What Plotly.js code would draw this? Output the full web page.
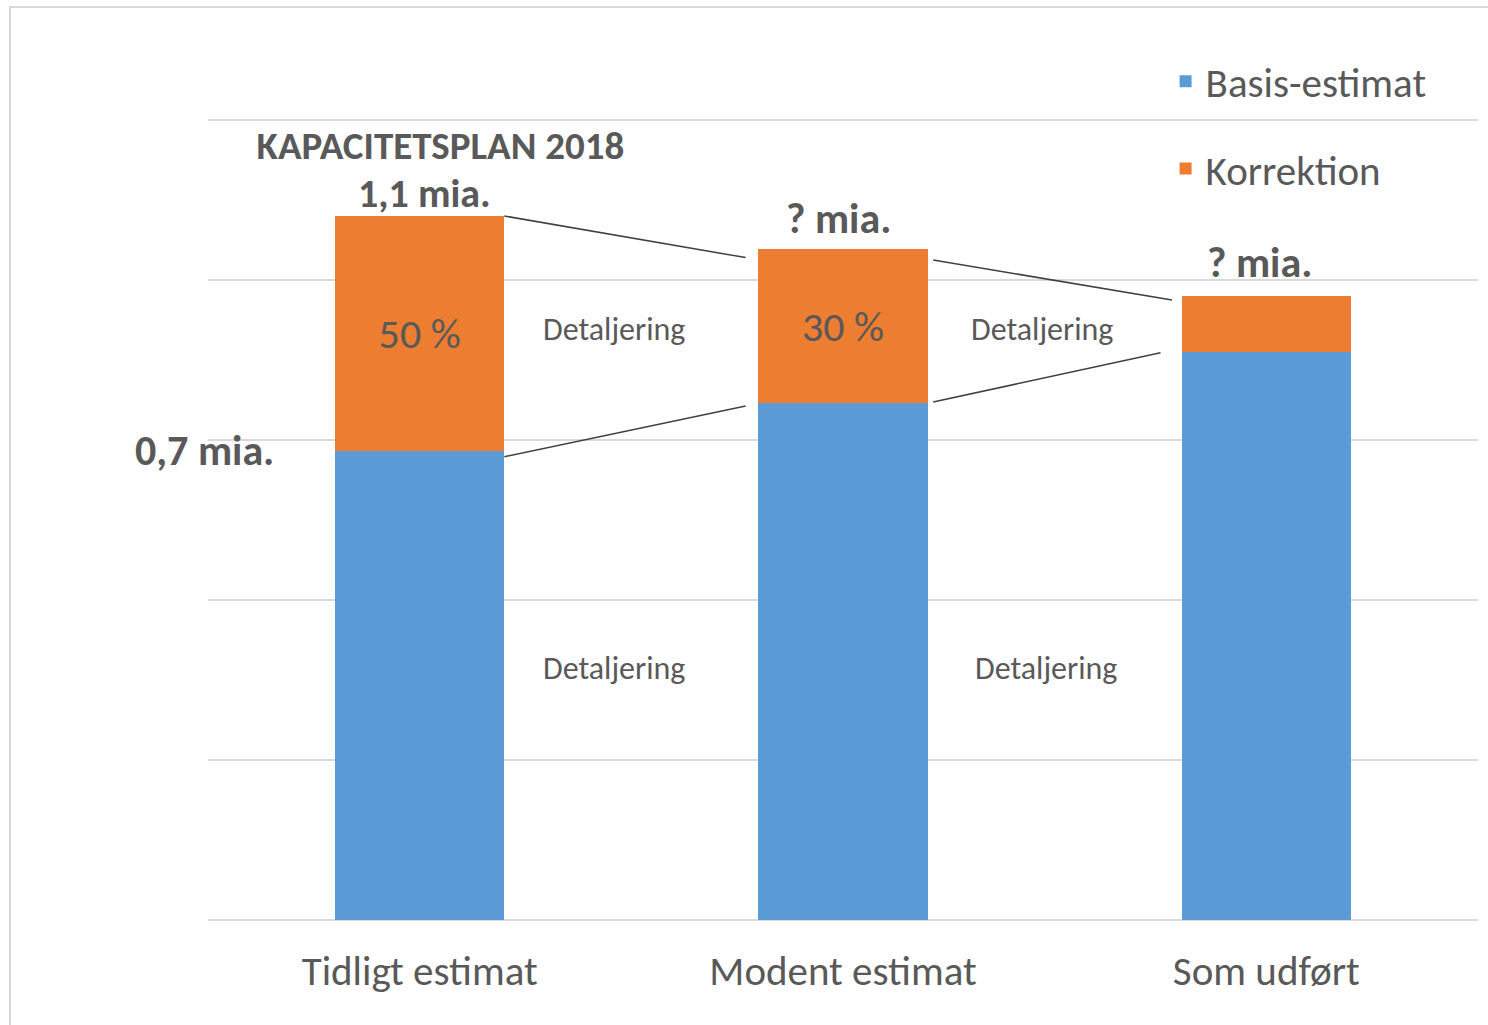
<!DOCTYPE html>
<html>
<head>
<meta charset="utf-8">
<script src="https://cdn.plot.ly/plotly-3.0.1.min.js"></script>
<style>
  html, body { margin: 0; padding: 0; background: #fff; }
  #wrap { position: relative; width: 1488px; height: 1025px; overflow: hidden; }
  #chart { width: 1488px; height: 1025px; }
  #frame { position: absolute; left: 9px; top: 6px; width: 1490px; height: 1030px; border: 2px solid #d9d9d9; pointer-events: none; }
</style>
</head>
<body>
<div id="wrap"><div id="chart"></div><div id="frame"></div></div>
<script>
// Data (arbitrary units, axis 0-100)
const categories = ["Tidligt estimat", "Modent estimat", "Som udført"];
const basisValues = [58.6, 64.6, 71.0];
const korrektionValues = [29.4, 19.3, 7.0];
const korrektionLabels = ["50 %", "30 %", ""];
const totalLabels = ["1,1 mia.", "? mia.", "? mia."];
const basisLabel = "0,7 mia.";
const seriesNames = ["Basis-estimat", "Korrektion"];
const titleText = "KAPACITETSPLAN 2018";
const connectorText = "Detaljering";

const FONT = "Carlito, Lato, 'Open Sans', sans-serif";
const TXT = "#595959";
const totals = basisValues.map((b, i) => b + korrektionValues[i]);

const traces = [
  {
    type: "bar", name: seriesNames[0], x: categories, y: basisValues,
    marker: { color: "#5b9bd5" }, legendgroup: "a", hoverinfo: "skip"
  },
  {
    type: "bar", name: seriesNames[1], x: categories, y: korrektionValues,
    marker: { color: "#ed7d31" }, legendgroup: "b", hoverinfo: "skip",
    text: korrektionLabels, textposition: "inside", insidetextanchor: "middle",
    textangle: 0, constraintext: "none",
    textfont: { family: FONT, size: 42, color: TXT }
  }
];

// connector lines between bars (anchored on the data values)
const LINE = { color: "#404040", width: 1.5 };
const shapes = [
  { type: "line", xref: "x", yref: "y", x0: 0.2, y0: totals[0], x1: 0.77, y1: totals[1] - 1.1, line: LINE },
  { type: "line", xref: "x", yref: "y", x0: 1.213, y0: totals[1] - 1.4, x1: 1.777, y1: totals[2] - 0.5, line: LINE },
  { type: "line", xref: "x", yref: "y", x0: 0.2, y0: basisValues[0] - 0.7, x1: 0.77, y1: basisValues[1] - 0.35, line: LINE },
  { type: "line", xref: "x", yref: "y", x0: 1.213, y0: basisValues[1] + 0.15, x1: 1.75, y1: basisValues[2] - 0.1, line: LINE }
];

const annotations = [];
totalLabels.forEach((t, i) => {
  annotations.push({ x: i, y: totals[i], xref: "x", yref: "y", text: "<b>" + t + "</b>",
    showarrow: false, yanchor: "middle", yshift: [23, 30, 34][i], xshift: [5, -5, -7][i],
    font: { family: FONT, size: [40, 42, 42][i], color: TXT } });
});
annotations.push({ x: 0, y: basisValues[0], xref: "paper", yref: "y", text: "<b>" + basisLabel + "</b>",
  showarrow: false, xanchor: "right", xshift: 68, yshift: 1,
  font: { family: FONT, size: 42, color: TXT } });
[[0.46, 73.8], [1.47, 73.8], [0.46, 31.5], [1.48, 31.5]].forEach(p => {
  annotations.push({ x: p[0], y: p[1], xref: "x", yref: "y", text: connectorText, showarrow: false,
    font: { family: FONT, size: 32, color: TXT } });
});

const layout = {
  width: 1488, height: 1025,
  margin: { l: 208, r: 10, t: 118, b: 103 },
  paper_bgcolor: "#fff", plot_bgcolor: "#fff",
  barmode: "stack", bargap: 0.6,
  title: { text: "<b>" + titleText + "</b>", xref: "paper", x: 0.183, xanchor: "center",
    yref: "container", y: 1 - 145 / 1025, yanchor: "middle",
    font: { family: FONT, size: 39, color: TXT } },
  xaxis: { type: "category", range: [-0.5, 2.5], showgrid: false, showline: false, zeroline: false,
    ticks: "", tickfont: { family: FONT, size: 41, color: TXT }, ticklabelstandoff: 21, fixedrange: true },
  yaxis: { range: [-0.25, 100.25], tickvals: [0, 20, 40, 60, 80, 100], showticklabels: false, showgrid: true,
    gridcolor: "#d9d9d9", gridwidth: 2, zeroline: false, showline: false, ticks: "", fixedrange: true },
  showlegend: true,
  legend: { x: 0.754, xanchor: "left", y: 1.087, yanchor: "top", orientation: "v",
    traceorder: "grouped", tracegroupgap: 31, bgcolor: "rgba(0,0,0,0)",
    font: { family: FONT, size: 41, color: TXT } },
  shapes: shapes,
  annotations: annotations
};

Plotly.newPlot("chart", traces, layout, { displayModeBar: false, staticPlot: true });
</script>
</body>
</html>
